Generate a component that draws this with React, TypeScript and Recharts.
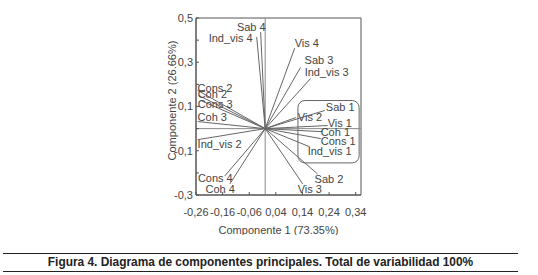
import React from 'react';
import { ScatterChart, Scatter, XAxis, YAxis, ReferenceLine, ReferenceArea, Label } from 'recharts';

// loadings (component 1, component 2)
const variables = [
  'Sab 4', 'Ind_vis 4', 'Vis 4', 'Sab 3', 'Ind_vis 3',
  'Cons 2', 'Coh 2', 'Cons 3', 'Coh 3', 'Ind_vis 2',
  'Cons 4', 'Coh 4', 'Sab 1', 'Vis 2', 'Vis 1',
  'Coh 1', 'Cons 1', 'Ind_vis 1', 'Sab 2', 'Vis 3',
];
const comp1 = [
  -0.017, -0.032, 0.111, 0.133, 0.171,
  -0.254, -0.25, -0.242, -0.254, -0.254,
  -0.152, -0.133, 0.224, 0.115, 0.235,
  0.216, 0.209, 0.167, 0.197, 0.141,
];
const comp2 = [
  0.436, 0.414, 0.364, 0.277, 0.227,
  0.173, 0.15, 0.127, 0.032, -0.05,
  -0.214, -0.25, 0.082, 0.05, 0.014,
  -0.014, -0.045, -0.082, -0.205, -0.25,
];

const xTicks = [-0.26, -0.16, -0.06, 0.04, 0.14, 0.24, 0.34];
const yTicks = [-0.3, -0.2, -0.1, 0, 0.1, 0.2, 0.3, 0.4, 0.5];
const xTitle = 'Componente 1 (73.35%)';
const yTitle = 'Componente 2 (26.66%)';
const caption = 'Figura 4. Diagrama de componentes principales. Total de variabilidad 100%';

// highlighted group (rounded box)
const groupX = [0.123, 0.353];
const groupY = [-0.155, 0.127];

// where each label sits relative to the tip of its vector: dx, dy, anchor
const labelPlace: Record<string, [number, number, 'start' | 'end']> = {
  'Sab 4': [5, -5, 'end'],
  'Ind_vis 4': [-4, 1, 'end'],
  'Vis 4': [0, -5, 'start'],
  'Sab 3': [4, -7, 'start'],
  'Ind_vis 3': [-6, -6, 'start'],
  'Cons 2': [0, -2, 'start'],
  'Coh 2': [-1, -1, 'start'],
  'Cons 3': [-3, 3, 'start'],
  'Coh 3': [0, -5, 'start'],
  'Ind_vis 2': [0, 4, 'start'],
  'Cons 4': [8, 2, 'end'],
  'Coh 4': [5, 5, 'end'],
  'Sab 1': [1, -3, 'start'],
  'Vis 2': [2, -1, 'start'],
  'Vis 1': [0, -3, 'start'],
  'Coh 1': [-2, 0, 'start'],
  'Cons 1': [0, 2, 'start'],
  'Ind_vis 1': [-2, 4, 'start'],
  'Sab 2': [-3, 5, 'start'],
  'Vis 3': [-5, 5, 'start'],
};

const FONT = '"Liberation Sans", Arial, sans-serif';
const TEXT = '#444';

const vectors = variables.map((name, i) => ({
  name,
  data: [
    { x: 0, y: 0, name: '' },
    { x: comp1[i], y: comp2[i], name },
  ],
}));

const comma = (v: number, d: number) => v.toFixed(d).replace('.', ',');

function TipLabel(props: any) {
  const { cx, cy, payload } = props;
  if (!payload || !payload.name) return <g />;
  const [dx, dy, anchor] = labelPlace[payload.name] || [0, 0, 'start'];
  return (
    <text x={cx + dx} y={cy + dy} textAnchor={anchor} dominantBaseline="central"
      fontSize={11} fontFamily={FONT} fill={TEXT}>
      {payload.name}
    </text>
  );
}

export default function App() {
  return (
    <div style={{ position: 'absolute', left: 0, top: 0, width: 538, height: 275, background: '#fff' }}>
      <ScatterChart width={538} height={235} margin={{ top: 18, right: 177, bottom: 0, left: 0 }}>
        <XAxis type="number" dataKey="x" domain={[-0.26, 0.36]} ticks={xTicks} allowDataOverflow
          tickFormatter={(v: number) => comma(v, 2)} height={40} stroke="#555"
          tickSize={-3} tickMargin={16} interval={0}
          tick={{ fontSize: 11, fontFamily: FONT, fill: TEXT }}>
          <Label content={({ viewBox }: any) => (
            <text x={viewBox.x + viewBox.width / 2} y={viewBox.y + 35} textAnchor="middle"
              dominantBaseline="central" fontSize={11} fontFamily={FONT} fill={TEXT}>{xTitle}</text>
          )} />
        </XAxis>
        <YAxis type="number" dataKey="y" domain={[-0.3, 0.5]} ticks={yTicks} allowDataOverflow
          tickFormatter={(v: number) => (Math.round(v * 10) % 2 !== 0 ? comma(v, 1) : '')}
          width={196} stroke="#555" tickSize={-3} tickMargin={6} interval={0}
          tick={{ fontSize: 11, fontFamily: FONT, fill: TEXT }}>
          <Label content={({ viewBox }: any) => {
            const x = viewBox.x + viewBox.width - 24;
            const y = viewBox.y + viewBox.height / 2 - 6;
            return (
              <text x={x} y={y} transform={`rotate(-90, ${x}, ${y})`} textAnchor="middle"
                dominantBaseline="central" fontSize={11} fontFamily={FONT} fill={TEXT}>{yTitle}</text>
            );
          }} />
        </YAxis>
        <ReferenceArea x1={-0.26} x2={0.36} y1={-0.3} y2={0.5} fill="none" stroke="#555" ifOverflow="visible" />
        <ReferenceLine x={0} stroke="#888" />
        <ReferenceLine y={0} stroke="#888" />
        <ReferenceArea x1={groupX[0]} x2={groupX[1]} y1={groupY[0]} y2={groupY[1]} ifOverflow="visible"
          shape={(p: any) => (
            <rect x={p.x} y={p.y} width={p.width} height={p.height} rx={7} ry={7} fill="none" stroke="#666" />
          )} />
        {vectors.map((v) => (
          <Scatter key={v.name} data={v.data} line={{ stroke: '#666', strokeWidth: 1 }}
            shape={TipLabel} isAnimationActive={false} />
        ))}
      </ScatterChart>
      <div style={{
        position: 'absolute', left: 3, top: 253, width: 515, height: 17,
        borderTop: '1px solid #222', borderBottom: '1px solid #222',
        fontFamily: FONT, fontWeight: 'bold', fontSize: 11.9, lineHeight: '17px',
        textAlign: 'center', color: '#222',
      }}>{caption}</div>
    </div>
  );
}
